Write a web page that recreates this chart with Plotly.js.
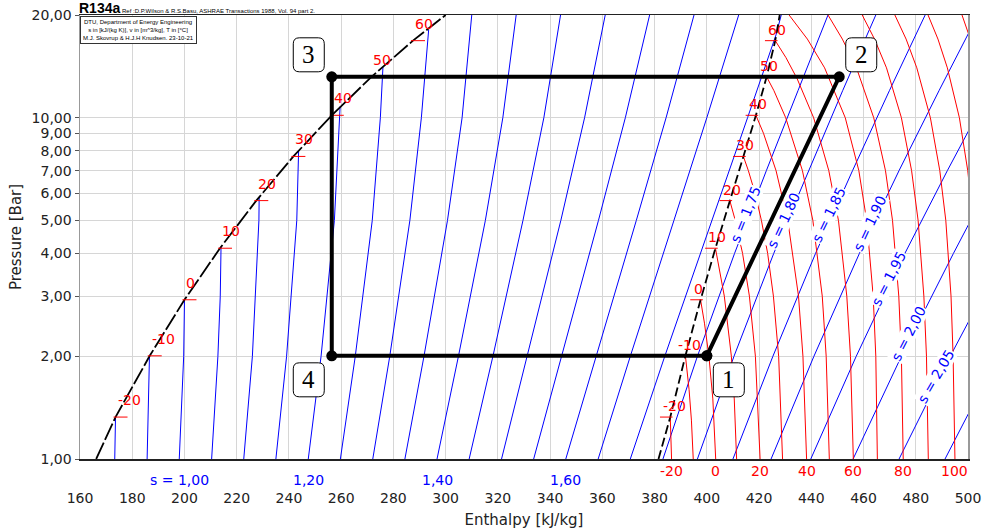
<!DOCTYPE html>
<html><head><meta charset="utf-8">
<script src="https://cdn.plot.ly/plotly-3.0.1.min.js"></script>
<style>html,body{margin:0;padding:0;background:#fff}#chart{width:984px;height:531px}</style>
</head><body><div id="chart"></div>
<script>
// ---- saturation curves (h in kJ/kg, p in bar) ----
const satP     = [1.0, 1.327, 2.006, 2.928, 4.146, 5.717, 7.702, 10.165, 13.18, 16.82, 20.0];
const satTemp  = [null, -20, -10, 0, 10, 20, 30, 40, 50, 60, null];
const satLiqH  = [166.2, 173.6, 186.7, 200.0, 213.6, 227.5, 241.7, 256.4, 271.6, 287.5, 300.0];
const satVapH  = [381.5, 386.0, 391.8, 397.6, 403.3, 408.8, 414.0, 418.8, 422.9, 426.2, 427.9];

// ---- isotherms in the superheated region (deg C) ----
const isoTemps = [-20, -10, 0, 10, 20, 30, 40, 50, 60, 70, 80, 90, 100, 110, 120];
const isoP = [
  [1.0, 1.15, 1.327],
  [1.0, 1.3, 1.6, 2.006],
  [1.0, 1.5, 2.0, 2.5, 2.928],
  [1.0, 1.5, 2.0, 3.0, 4.146],
  [1.0, 2.0, 3.0, 4.0, 5.0, 5.717],
  [1.0, 2.0, 3.0, 4.0, 5.0, 6.0, 7.0, 7.702],
  [1.0, 2.0, 3.0, 5.0, 7.0, 9.0, 10.165],
  [1.0, 2.0, 3.0, 5.0, 7.0, 10.0, 12.0, 13.18],
  [1.0, 2.0, 3.0, 5.0, 7.0, 10.0, 13.0, 15.0, 16.82],
  [1, 2, 3, 5, 7, 10, 14, 17, 20],
  [1, 2, 3, 5, 7, 10, 14, 17, 20],
  [1, 2, 3, 5, 7, 10, 14, 17, 20],
  [1, 2, 3, 5, 7, 10, 14, 17, 20],
  [1, 2, 3, 5, 7, 10, 14, 17, 20],
  [1, 2, 3, 5, 7, 10, 14, 17, 20]
];
const isoH = [
  [386.5, 386.3, 386.0],
  [394.8, 394.1, 393.2, 391.8],
  [403.4, 402.3, 400.8, 399.1, 397.6],
  [411.4, 410.5, 409.4, 406.7, 403.3],
  [420.4, 418.6, 416.3, 413.7, 410.9, 408.8],
  [429.0, 427.5, 425.5, 423.3, 420.9, 418.5, 415.9, 414.0],
  [438.2, 436.8, 435.1, 431.0, 426.5, 421.7, 418.8],
  [446.9, 445.7, 444.2, 440.6, 436.6, 430.2, 425.7, 422.9],
  [456.1, 455.0, 453.6, 450.4, 446.7, 440.9, 434.6, 430.3, 426.2],
  [465.3, 464.7, 463.7, 461.2, 458.2, 453.0, 445.1, 438.5, 431.5],
  [475.2, 474.5, 473.5, 471.1, 468.4, 463.9, 457.3, 451.9, 446.4],
  [484.8, 484.1, 483.1, 480.9, 478.4, 474.5, 468.8, 464.2, 459.5],
  [495.0, 494.3, 493.5, 491.5, 489.2, 485.6, 480.4, 476.3, 472.0],
  [505.0, 504.4, 503.6, 501.9, 499.9, 496.7, 492.1, 488.5, 484.7],
  [515.0, 514.5, 513.8, 512.3, 510.7, 507.9, 504.0, 500.9, 497.7]
];
const bottomTempLabels = [-20, 0, 20, 40, 60, 80, 100];

// ---- isentropes, kJ/(kg K) ----
const sValues = [0.90, 0.95, 1.00, 1.05, 1.10, 1.15, 1.20, 1.25, 1.30, 1.35, 1.40, 1.45, 1.50, 1.55, 1.60, 1.65, 1.70,
                 1.75, 1.80, 1.85, 1.90, 1.95, 2.00, 2.05, 2.10];
const sP = [
  [1.327, 1.0], [2.006, 1.0], [2.928, 2, 1], [4.19, 3, 2, 1], [5.85, 5, 2, 1], [7.98, 5, 2, 1],
  [10.8, 10, 5, 2, 1], [14.1, 10, 5, 2, 1], [18.1, 10, 5, 2, 1],
  [20, 10, 5, 2, 1], [20, 10, 5, 2, 1], [20, 10, 5, 2, 1], [20, 10, 5, 2, 1], [20, 10, 5, 2, 1],
  [20, 10, 5, 2, 1], [20, 10, 5, 2, 1], [20, 17.5, 10, 5, 2, 1],
  [1, 2, 4, 7, 12, 20], [1, 2, 4, 7, 12, 20], [1, 2, 4, 7, 12, 20], [1, 2, 4, 7, 12, 20],
  [1, 2, 4, 7, 12, 20], [1, 2, 4, 7], [1, 2, 4], [1, 2]
];
const sH = [
  [173.6, 173.3], [186.6, 185.7], [200.0, 199.7, 198.0], [214.0, 213.7, 212.8, 210.4],
  [228.6, 228.5, 226.0, 222.7], [243.7, 243.0, 239.1, 235.0],
  [259.6, 259.4, 257.4, 252.3, 247.4], [276.0, 275.0, 271.9, 265.4, 259.7], [293.5, 290.7, 286.3, 278.6, 272.1],
  [310.0, 306.3, 300.7, 291.7, 284.4], [327.0, 321.9, 315.2, 304.9, 296.7], [344.0, 337.6, 329.6, 318.1, 309.0],
  [361.1, 353.2, 344.1, 331.3, 321.4], [378.1, 368.8, 358.5, 344.4, 333.7], [395.1, 384.4, 373.0, 357.6, 346.0],
  [412.2, 400.0, 387.4, 370.7, 358.4], [428.5, 426.5, 415.6, 401.9, 383.9, 370.7],
  [383.2, 396.4, 410.6, 422.8, 434.9, 446.4], [396.4, 410.4, 425.6, 438.9, 452.0, 464.7],
  [410.0, 425.3, 441.6, 455.8, 469.9, 483.6], [424.6, 441.0, 458.4, 473.6, 488.9, 503.8],
  [439.8, 457.2, 475.8, 492.1, 508.4, 524.0], [456.0, 474.5, 494.4, 511.0], [473.6, 493.2, 514.0], [491.2, 511.5]
];
const bottomSLabels = [1.00, 1.20, 1.40, 1.60];
const lineSLabels   = [1.75, 1.80, 1.85, 1.90, 1.95, 2.00, 2.05];
const lineSLabelP   = [5.16, 4.96, 5.16, 4.86, 3.35, 2.31, 1.74];
const lineSLabelAng = [-68, -65, -64, -65, -63, -63, -60];

// ---- refrigeration cycle ----
const cycleNames = ['1', '2', '3', '4'];
const cycleH = [400.0, 450.7, 256.4, 256.4];
const cycleP = [2.006, 13.18, 13.18, 2.006];

// ---------------------------------------------------------------
const fmt = v => v.toFixed(2).replace('.', ',');
const FONT = 'DejaVu Sans, Verdana, sans-serif';
const RED = '#ff0000', BLUE = '#0000ff';

function hAt(pArr, hArr, p) {
  const pts = pArr.map((q, i) => [Math.log(q), hArr[i]]).sort((a, b) => a[0] - b[0]);
  const lp = Math.log(p);
  for (let i = 0; i < pts.length - 1; i++) {
    if (lp >= pts[i][0] && lp <= pts[i + 1][0]) {
      const t = (lp - pts[i][0]) / (pts[i + 1][0] - pts[i][0]);
      return pts[i][1] + t * (pts[i + 1][1] - pts[i][1]);
    }
  }
  return pts[pts.length - 1][1];
}

const traces = [];
// isentropes
sValues.forEach((s, i) => traces.push({
  type: 'scatter', mode: 'lines', x: sH[i], y: sP[i], hoverinfo: 'skip',
  line: {color: BLUE, width: 1}, showlegend: false
}));
// isotherms
isoTemps.forEach((t, i) => traces.push({
  type: 'scatter', mode: 'lines', x: isoH[i], y: isoP[i], hoverinfo: 'skip',
  line: {color: RED, width: 1}, showlegend: false
}));
// saturation lines
traces.push({type: 'scatter', mode: 'lines', x: satLiqH, y: satP, hoverinfo: 'skip',
  line: {color: '#000', width: 1.8, dash: '18px,3px'}, showlegend: false});
traces.push({type: 'scatter', mode: 'lines', x: satVapH, y: satP, hoverinfo: 'skip',
  line: {color: '#000', width: 1.8, dash: '9px,4px'}, showlegend: false});

// small red ticks at the marked saturation temperatures
const mk = satTemp.map((t, i) => t === null ? null : i).filter(i => i !== null);
const hPerPx = (500 - 160) / 888;
traces.push({type: 'scatter', mode: 'markers', hoverinfo: 'skip', showlegend: false,
  x: mk.map(i => satLiqH[i] + 5 * hPerPx), y: mk.map(i => satP[i]),
  marker: {symbol: 'line-ew-open', size: 10, color: RED, line: {color: RED, width: 1}}});
traces.push({type: 'scatter', mode: 'markers', hoverinfo: 'skip', showlegend: false,
  x: mk.map(i => satVapH[i] - 4 * hPerPx), y: mk.map(i => satP[i]),
  marker: {symbol: 'line-ew-open', size: 9, color: RED, line: {color: RED, width: 1}}});

// cycle
traces.push({type: 'scatter', mode: 'lines+markers', hoverinfo: 'skip', showlegend: false,
  x: cycleH.concat([cycleH[0]]), y: cycleP.concat([cycleP[0]]),
  line: {color: '#000', width: 4}, marker: {color: '#000', size: 11}});

const ann = [];
const shapes = [];
// temperature labels on saturation lines
mk.forEach(i => {
  ann.push({x: satLiqH[i], y: Math.log10(satP[i]), text: String(satTemp[i]), showarrow: false,
    xanchor: 'left', yanchor: 'middle', yshift: 17, font: {family: FONT, size: 14, color: RED}});
  ann.push({x: satVapH[i], y: Math.log10(satP[i]), text: String(satTemp[i]), showarrow: false,
    xanchor: 'left', xshift: -9, yanchor: 'middle', yshift: 11, font: {family: FONT, size: 14, color: RED}});
});
// bottom temperature labels
bottomTempLabels.forEach(t => {
  const i = isoTemps.indexOf(t);
  ann.push({x: isoH[i][0], xref: 'x', y: 0, yref: 'paper', text: String(t), showarrow: false,
    yanchor: 'middle', yshift: -12, font: {family: FONT, size: 14, color: RED}});
});
// bottom entropy labels
bottomSLabels.forEach((s, k) => {
  const i = sValues.findIndex(v => Math.abs(v - s) < 1e-6);
  ann.push({x: hAt(sP[i], sH[i], 1.0), xref: 'x', y: 0, yref: 'paper',
    text: (k === 0 ? 's = ' : '') + fmt(s), showarrow: false,
    yanchor: 'middle', yshift: -21, font: {family: FONT, size: 14, color: BLUE}});
});
// entropy labels along lines
lineSLabels.forEach((s, k) => {
  const i = sValues.findIndex(v => Math.abs(v - s) < 1e-6);
  ann.push({x: hAt(sP[i], sH[i], lineSLabelP[k]), y: Math.log10(lineSLabelP[k]),
    text: 's = ' + fmt(s), showarrow: false, textangle: lineSLabelAng[k], xshift: -4, yshift: 1,
    bgcolor: '#fff', borderpad: 0, font: {family: FONT, size: 14, color: BLUE}});
});
// cycle state labels in rounded boxes
const cycOff = [[22, -24], [22, 22], [-23, 22], [-23, -24]];
const BW = 15.5, BH = 17, BR = 6;
cycleNames.forEach((n, i) => {
  const cx = cycOff[i][0], cy = cycOff[i][1];
  const l = cx - BW, r = cx + BW, b = cy - BH, t = cy + BH;
  const path = `M ${l + BR},${b} L ${r - BR},${b} Q ${r},${b} ${r},${b + BR} L ${r},${t - BR} Q ${r},${t} ${r - BR},${t}` +
               ` L ${l + BR},${t} Q ${l},${t} ${l},${t - BR} L ${l},${b + BR} Q ${l},${b} ${l + BR},${b} Z`;
  shapes.push({type: 'path', xref: 'x', yref: 'y', xsizemode: 'pixel', ysizemode: 'pixel',
    xanchor: cycleH[i], yanchor: cycleP[i], path: path,
    fillcolor: '#fff', line: {color: '#000', width: 1}, layer: 'above'});
  ann.push({x: cycleH[i], y: Math.log10(cycleP[i]), text: n, showarrow: false,
    xshift: cx, yshift: cy, font: {family: 'Liberation Serif, DejaVu Serif, serif', size: 25, color: '#000'}});
});
// header
ann.push({xref: 'paper', yref: 'paper', x: 0, y: 1, xanchor: 'left', yanchor: 'bottom', xshift: -3, yshift: -3,
  text: '<b>R134a</b>', showarrow: false, font: {family: 'Liberation Sans, Arial, sans-serif', size: 14, color: '#000'}});
ann.push({xref: 'paper', yref: 'paper', x: 0, y: 1, xanchor: 'left', yanchor: 'bottom', xshift: 40, yshift: -1,
  text: 'Ref :D.P.Wilson &amp; R.S.Basu, ASHRAE Transactions 1988, Vol. 94 part 2.', showarrow: false,
  font: {family: 'Liberation Sans, Arial, sans-serif', size: 6, color: '#000'}});
ann.push({xref: 'paper', yref: 'paper', x: 0, y: 1, xanchor: 'left', yanchor: 'top', yshift: -1,
  text: 'DTU, Department of Energy Engineering<br>s in [kJ/(kg K)], v in [m^3/kg], T in [°C]<br>M.J. Skovrup &amp; H.J.H Knudsen. 23-10-21',
  showarrow: false, align: 'center', bgcolor: '#fff', bordercolor: '#333', borderwidth: 1, borderpad: 2,
  font: {family: 'Liberation Sans, Arial, sans-serif', size: 6, color: '#000'}});

const yTicks = [1, 2, 3, 4, 5, 6, 7, 8, 9, 10, 20];
const xTicks = [];
for (let v = 160; v <= 500; v += 20) xTicks.push(v);

const layout = {
  width: 984, height: 531,
  margin: {l: 80, r: 16, t: 15, b: 72},
  paper_bgcolor: '#fff', plot_bgcolor: '#fff',
  showlegend: false,
  font: {family: FONT, size: 14, color: '#222'},
  xaxis: {
    range: [160, 500], tickvals: xTicks, ticktext: xTicks.map(String),
    showgrid: true, gridcolor: '#d6d6d6', gridwidth: 1, zeroline: false,
    showline: true, linecolor: '#222', linewidth: 1.5, mirror: true,
    ticks: '', ticklabelstandoff: 26,
    tickfont: {family: FONT, size: 14, color: '#222'},
    title: {text: 'Enthalpy [kJ/kg]', font: {family: FONT, size: 15, color: '#222'}, standoff: 9}
  },
  yaxis: {
    type: 'log', range: [0, Math.log10(20)],
    tickvals: yTicks, ticktext: yTicks.map(fmt),
    showgrid: true, gridcolor: '#d6d6d6', gridwidth: 1, zeroline: false,
    showline: true, linecolor: '#999', linewidth: 1.5, mirror: true,
    ticks: 'outside', ticklen: 4, tickcolor: '#555',
    tickfont: {family: FONT, size: 14, color: '#222'},
    title: {text: 'Pressure [Bar]', font: {family: FONT, size: 15, color: '#222'}, standoff: 6}
  },
  shapes: shapes,
  annotations: ann
};

Plotly.newPlot('chart', traces, layout, {staticPlot: true, displayModeBar: false});
</script>
</body></html>
